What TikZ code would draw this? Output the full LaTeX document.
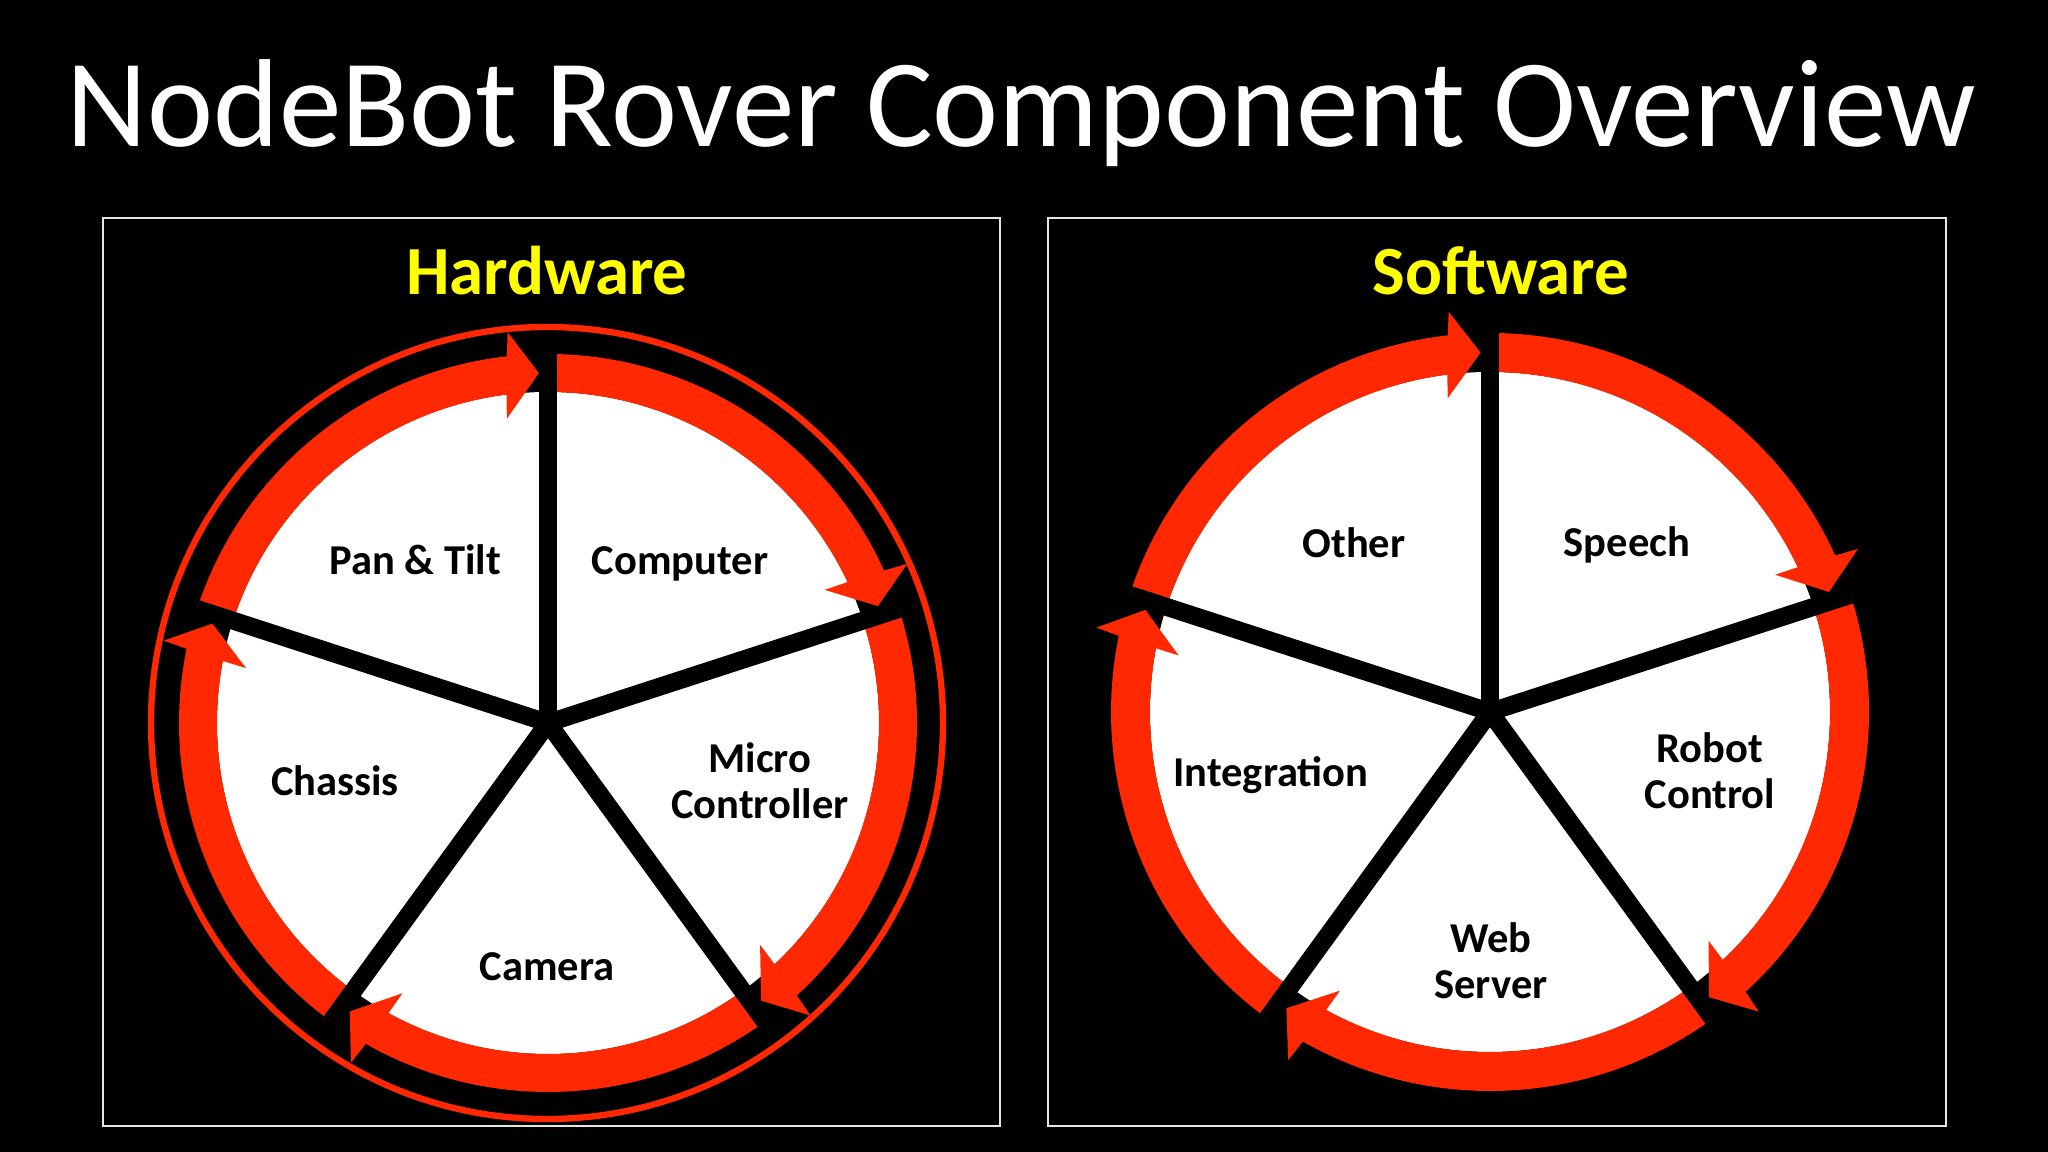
\documentclass[tikz,border=0pt]{standalone}
\usepackage{fontspec}
\setmainfont{Carlito}
\usetikzlibrary{arrows,shapes}
\definecolor{arrowred}{RGB}{255,40,0}
\definecolor{headyellow}{RGB}{255,255,0}
\tikzstyle{panel}=[draw=white!90!black,line width=0.7pt]
\tikzstyle{spoke}=[draw=black,line width=5.1pt]
\tikzstyle{ring}=[fill=arrowred]
\tikzstyle{part}=[font=\bfseries\fontsize{12.1}{13.1}\selectfont,align=center,text=black,inner sep=0pt]
\tikzstyle{heading}=[font=\bfseries\fontsize{19.6}{22}\selectfont,text=headyellow,inner sep=0pt]

\begin{document}
\begin{tikzpicture}[x=0.01cm,y=0.01cm]

    \fill[black] (0,0) rectangle (2048,1152);
    \useasboundingbox (0,0) rectangle (2048,1152);

    \node[font=\fontsize{35.6}{40}\selectfont, text=white, anchor=base, inner sep=0pt] (title) at (1021,1005) {NodeBot Rover Component Overview};

    \draw[panel] (103,26) rectangle (1000,934);
    \draw[panel] (1048,26) rectangle (1946,934);

    \node[heading] (hw) at (547,881) {Hardware};
    \node[heading] (sw) at (1501,881) {Software};

    % hardware wheel
    \draw[arrowred, line width=1.8pt] (547,429) circle[radius=396];
    \begin{scope}[shift={(548,429)}]
        \def\ri{331};
        \def\ro{369};
        \def\rm{350};
        \fill[white] (0,0) circle[radius=\ri];
        \foreach \a in {90,18,-54,-126,-198} {
            \pgfmathsetmacro{\e}{\a-70.5}
            \fill[ring] (\a:\ro) arc[start angle=\a, end angle=\e+4.9, radius=\ro]
                -- ({\e+4.4}:{\rm+43}) -- (\e:\rm) -- ({\e+6.2}:{\rm-43})
                -- ({\e+5.7}:\ri) arc[start angle=\e+5.7, end angle=\a, radius=\ri] -- cycle;
        }
        \foreach \a in {90,18,-54,-126,162}
            \draw[spoke] (0,0) -- (\a:\ro);
    \end{scope}

    \node[part] (pan) at (415,592) {Pan \& Tilt};
    \node[part] (comp) at (680,588) {Computer};
    \node[part] (micro) at (760,371) {Micro\\Controller};
    \node[part] (cam) at (547,185) {Camera};
    \node[part] (chassis) at (335,371) {Chassis};

    % software wheel
    \begin{scope}[shift={(1490,440)}]
        \def\ri{340};
        \def\ro{379};
        \def\rm{359.5};
        \fill[white] (0,0) circle[radius=\ri];
        \foreach \a in {90,18,-54,-126,-198} {
            \pgfmathsetmacro{\e}{\a-70.5}
            \fill[ring] (\a:\ro) arc[start angle=\a, end angle=\e+4.9, radius=\ro]
                -- ({\e+4.4}:{\rm+43}) -- (\e:\rm) -- ({\e+6.2}:{\rm-43})
                -- ({\e+5.7}:\ri) arc[start angle=\e+5.7, end angle=\a, radius=\ri] -- cycle;
        }
        \foreach \a in {90,18,-54,-126,162}
            \draw[spoke] (0,0) -- (\a:\ro);
    \end{scope}

    \node[part] (speech) at (1627,607) {Speech};
    \node[part] (robot) at (1710,381) {Robot\\Control};
    \node[part] (web) at (1491,191) {Web\\Server};
    \node[part] (integ) at (1271,377) {Integration};
    \node[part] (other) at (1354,609) {Other};

\end{tikzpicture}
\end{document}
